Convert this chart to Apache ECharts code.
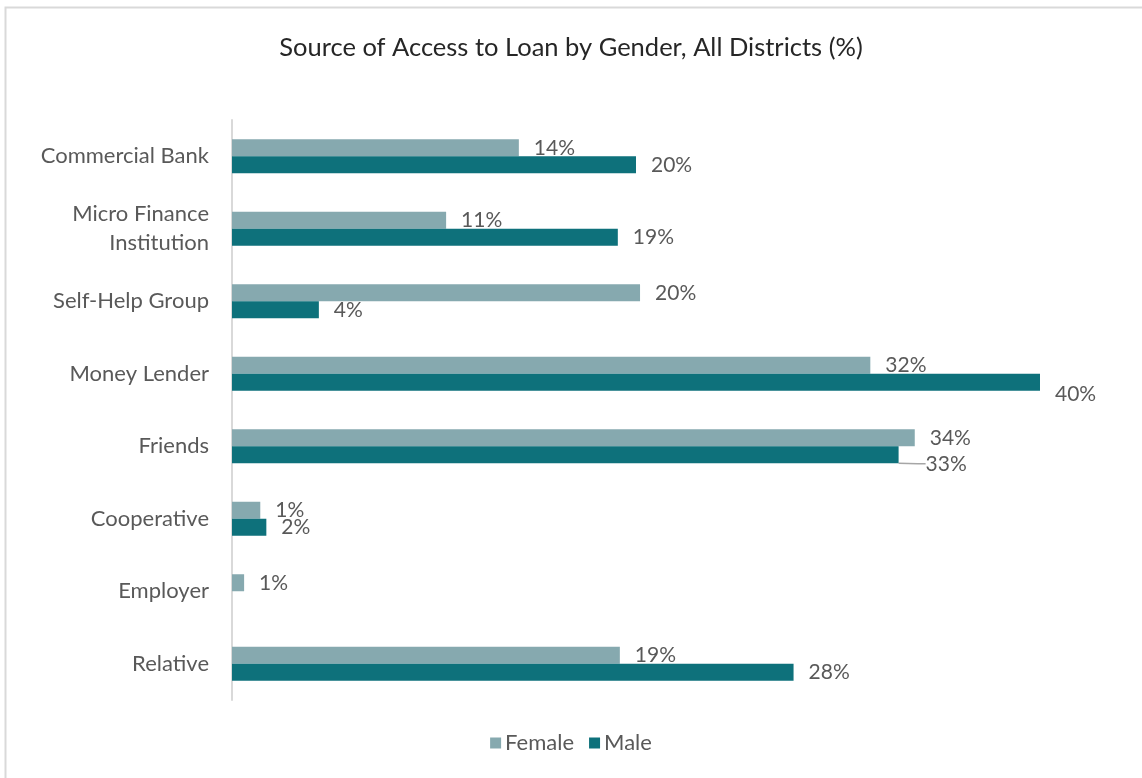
<!DOCTYPE html>
<html>
<head>
<meta charset="utf-8">
<script src="https://cdn.jsdelivr.net/npm/echarts@6/dist/echarts.min.js"></script>
<style>
  html, body { margin: 0; padding: 0; background: #fff; }
  #chart { width: 1142px; height: 778px; }
</style>
</head>
<body>
<div id="chart"></div>
<script>
// Loan sources, top to bottom
const categories = [
  'Commercial Bank',
  'Micro Finance\nInstitution',
  'Self-Help Group',
  'Money Lender',
  'Friends',
  'Cooperative',
  'Employer',
  'Relative'
];

// Share of respondents (%) per loan source
const femaleValues = [14.2, 10.6, 20.2, 31.6, 33.8, 1.4, 0.6, 19.2];
const maleValues   = [20.0, 19.1, 4.3, 40.0, 33.0, 1.7, null, 27.8];

const seriesNames = ['Female', 'Male'];
const seriesColors = ['#86A9AF', '#0E717B'];

const FONT = 'Lato, "Open Sans", sans-serif';
const TEXT_GREY = '#595959';

const chart = echarts.init(document.getElementById('chart'), null, { renderer: 'canvas' });

const labelStyle = {
  show: true,
  position: 'right',
  distance: 15,
  fontFamily: FONT,
  fontSize: 21,
  color: TEXT_GREY,
  formatter: p => Math.round(p.value) + '%'
};

// Friends / Male label sits lower-right with a short leader line
const maleData = maleValues.map((v, i) => {
  if (i === 4) {
    return { value: v, labelLine: { show: true, length2: 8, lineStyle: { color: '#A6A6A6', width: 1.5 } } };
  }
  return v;
});

chart.setOption({
  animation: false,
  backgroundColor: '#ffffff',
  title: {
    text: 'Source of Access to Loan by Gender, All Districts (%)',
    left: 'center',
    top: 30,
    textStyle: { fontFamily: FONT, fontSize: 25.5, fontWeight: 'normal', color: '#262626' }
  },
  legend: {
    data: seriesNames,
    bottom: 19,
    left: 'center',
    itemWidth: 11,
    itemHeight: 11,
    itemGap: 15,
    icon: 'rect',
    textStyle: { fontFamily: FONT, fontSize: 22, color: TEXT_GREY, padding: [0, 0, 0, -1] }
  },
  grid: { left: 232, top: 120, width: 808, height: 580, containLabel: false },
  xAxis: {
    type: 'value',
    min: 0,
    max: 40,
    show: false
  },
  yAxis: {
    type: 'category',
    data: categories,
    inverse: true,
    axisTick: { show: false },
    axisLine: { show: true, lineStyle: { color: '#D9D9D9', width: 2 } },
    axisLabel: {
      margin: 23,
      fontFamily: FONT,
      fontSize: 22,
      lineHeight: 29,
      color: TEXT_GREY,
      align: 'right'
    },
    splitLine: { show: false }
  },
  series: [
    {
      name: seriesNames[0],
      type: 'bar',
      data: femaleValues,
      barWidth: 17,
      barGap: '0%',
      itemStyle: { color: seriesColors[0] },
      label: labelStyle
    },
    {
      name: seriesNames[1],
      type: 'bar',
      data: maleData,
      barWidth: 17,
      barGap: '0%',
      itemStyle: { color: seriesColors[1] },
      label: labelStyle,
      labelLayout: function (params) {
        if (params.dataIndex === 3) return { dy: 12 };
        if (params.dataIndex === 4) return { dx: 12, dy: 9 };
        return {};
      }
    }
  ],
  graphic: [
    {
      type: 'rect',
      silent: true,
      shape: { x: 5.5, y: 7.5, width: 1300, height: 900 },
      style: { fill: 'none', stroke: '#D9D9D9', lineWidth: 2 }
    }
  ]
});
</script>
</body>
</html>
